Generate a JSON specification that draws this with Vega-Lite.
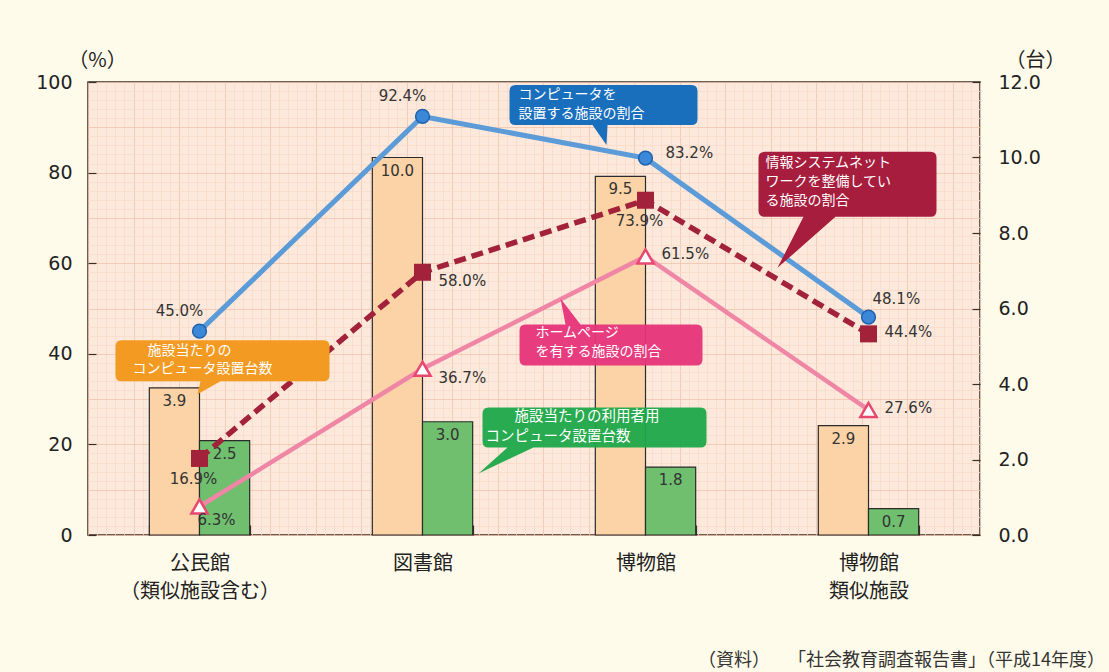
{
  "$schema": "https://vega.github.io/schema/vega-lite/v6.json",
  "width": 892,
  "height": 453,
  "autosize": "none",
  "padding": {"left": 88, "top": 82, "right": 129, "bottom": 137},
  "background": "#fffbea",
  "config": {
    "view": {"fill": "#fde9db", "stroke": "#3b2e25", "strokeWidth": 1.5},
    "font": "Noto Sans CJK JP"
  },
  "title": {
    "text": "（資料）　　「社会教育調査報告書」（平成14年度）",
    "orient": "bottom",
    "anchor": "end",
    "frame": "group",
    "dx": 125,
    "offset": 51,
    "font": "Noto Sans CJK JP",
    "fontSize": 18,
    "fontWeight": "normal",
    "color": "#333333"
  },
  "resolve": {"scale": {"x": "independent", "y": "independent"}},
  "layer": [
    {
      "data": {"values": [{"gx": 0, "gy": 0}, {"gx": 98, "gy": 100}]},
      "mark": {"type": "point", "opacity": 0},
      "encoding": {
        "x": {
          "field": "gx", "type": "quantitative",
          "scale": {"domain": [0, 98], "nice": false, "zero": false},
          "axis": {
            "orient": "top", "title": null, "labels": false, "ticks": false, "domain": false,
            "grid": true, "gridWidth": 0.8,
            "gridColor": {"condition": {"test": "datum.value % 5 === 0", "value": "#f0c4ae"}, "value": "#f7d9c9"},
            "values": [0,1,2,3,4,5,6,7,8,9,10,11,12,13,14,15,16,17,18,19,20,21,22,23,24,25,26,27,28,29,30,31,32,33,34,35,36,37,38,39,40,41,42,43,44,45,46,47,48,49,50,51,52,53,54,55,56,57,58,59,60,61,62,63,64,65,66,67,68,69,70,71,72,73,74,75,76,77,78,79,80,81,82,83,84,85,86,87,88,89,90,91,92,93,94,95,96,97,98]
          }
        },
        "y": {"field": "gy", "type": "quantitative", "scale": {"domain": [0, 100], "nice": false}, "axis": null}
      }
    },
    {
      "resolve": {"scale": {"y": "independent"}},
      "layer": [
        {
          "data": {"values": [
            {"cat": "公民館（類似施設含む）", "kind": "施設当たりのコンピュータ設置台数", "value": 3.9},
            {"cat": "公民館（類似施設含む）", "kind": "施設当たりの利用者用コンピュータ設置台数", "value": 2.5},
            {"cat": "図書館", "kind": "施設当たりのコンピュータ設置台数", "value": 10.0},
            {"cat": "図書館", "kind": "施設当たりの利用者用コンピュータ設置台数", "value": 3.0},
            {"cat": "博物館", "kind": "施設当たりのコンピュータ設置台数", "value": 9.5},
            {"cat": "博物館", "kind": "施設当たりの利用者用コンピュータ設置台数", "value": 1.8},
            {"cat": "博物館類似施設", "kind": "施設当たりのコンピュータ設置台数", "value": 2.9},
            {"cat": "博物館類似施設", "kind": "施設当たりの利用者用コンピュータ設置台数", "value": 0.7}
          ]},
          "layer": [
            {
              "mark": {"type": "bar", "stroke": "#2b2b2b", "strokeWidth": 1.2},
              "encoding": {
                "x": {
                  "field": "cat", "type": "nominal", "sort": null,
                  "scale": {"domain": ["公民館（類似施設含む）", "図書館", "博物館", "博物館類似施設"], "paddingInner": 0.55, "paddingOuter": 0.275},
                  "axis": {
                    "orient": "bottom", "title": null, "labelAngle": 0,
                    "labelExpr": "datum.label == '公民館（類似施設含む）' ? ['公民館','（類似施設含む）'] : datum.label == '博物館類似施設' ? ['博物館','類似施設'] : datum.label",
                    "labelFont": "Noto Sans CJK JP", "labelFontSize": 20, "labelColor": "#222222", "labelLineHeight": 28,
                    "labelPadding": 28, "tickBand": "extent", "tickSize": -10, "tickColor": "#3b2e25", "tickWidth": 1.2,
                    "domain": false, "grid": false
                  }
                },
                "xOffset": {
                  "field": "kind", "type": "nominal",
                  "scale": {"domain": ["施設当たりのコンピュータ設置台数", "施設当たりの利用者用コンピュータ設置台数"], "paddingInner": 0, "paddingOuter": 0}
                },
                "y": {
                  "field": "value", "type": "quantitative",
                  "scale": {"domain": [0, 12], "nice": false},
                  "axis": {
                    "orient": "right", "title": "（台）", "titleAngle": 0, "titleX": 55, "titleY": -22,
                    "titleAlign": "center", "titleBaseline": "middle", "titleFont": "Noto Sans CJK JP",
                    "titleFontSize": 20, "titleFontWeight": "normal", "titleColor": "#222222",
                    "values": [0, 2, 4, 6, 8, 10, 12], "format": ".1f",
                    "labelFont": "DejaVu Sans", "labelFontSize": 19, "labelColor": "#222222", "labelPadding": 26,
                    "tickSize": -8, "tickColor": "#3b2e25", "tickWidth": 1.2, "domain": false, "grid": false
                  }
                },
                "color": {
                  "field": "kind", "type": "nominal",
                  "scale": {"domain": ["施設当たりのコンピュータ設置台数", "施設当たりの利用者用コンピュータ設置台数"], "range": ["#fcd3a6", "#6fbf6f"]},
                  "legend": null
                }
              }
            },
            {
              "mark": {"type": "text", "baseline": "top", "dy": 6, "font": "DejaVu Sans", "fontSize": 15, "fill": "#333333"},
              "encoding": {
                "x": {"field": "cat", "type": "nominal", "sort": null, "scale": {"domain": ["公民館（類似施設含む）", "図書館", "博物館", "博物館類似施設"], "paddingInner": 0.55, "paddingOuter": 0.275}},
                "xOffset": {"field": "kind", "type": "nominal", "scale": {"domain": ["施設当たりのコンピュータ設置台数", "施設当たりの利用者用コンピュータ設置台数"], "paddingInner": 0, "paddingOuter": 0}},
                "y": {"field": "value", "type": "quantitative", "scale": {"domain": [0, 12], "nice": false}},
                "text": {"field": "value", "type": "quantitative", "format": ".1f"}
              }
            }
          ]
        },
        {
          "data": {"values": [
            {"cat": "公民館（類似施設含む）", "series": "設置", "pct": 45.0},
            {"cat": "図書館", "series": "設置", "pct": 92.4},
            {"cat": "博物館", "series": "設置", "pct": 83.2},
            {"cat": "博物館類似施設", "series": "設置", "pct": 48.1},
            {"cat": "公民館（類似施設含む）", "series": "ネットワーク", "pct": 16.9},
            {"cat": "図書館", "series": "ネットワーク", "pct": 58.0},
            {"cat": "博物館", "series": "ネットワーク", "pct": 73.9},
            {"cat": "博物館類似施設", "series": "ネットワーク", "pct": 44.4},
            {"cat": "公民館（類似施設含む）", "series": "ホームページ", "pct": 6.3},
            {"cat": "図書館", "series": "ホームページ", "pct": 36.7},
            {"cat": "博物館", "series": "ホームページ", "pct": 61.5},
            {"cat": "博物館類似施設", "series": "ホームページ", "pct": 27.6}
          ]},
          "transform": [{"calculate": "format(datum.pct, '.1f') + '%'", "as": "label"}],
          "encoding": {
            "x": {"field": "cat", "type": "nominal", "sort": null, "scale": {"domain": ["公民館（類似施設含む）", "図書館", "博物館", "博物館類似施設"], "paddingInner": 0.55, "paddingOuter": 0.275}},
            "y": {
              "field": "pct", "type": "quantitative",
              "scale": {"domain": [0, 100], "nice": false},
              "axis": {
                "orient": "left", "title": "（%）", "titleAngle": 0, "titleX": 9, "titleY": -22,
                "titleAlign": "center", "titleBaseline": "middle", "titleFont": "Noto Sans CJK JP",
                "titleFontSize": 20, "titleFontWeight": "normal", "titleColor": "#222222",
                "values": [0,2,4,6,8,10,12,14,16,18,20,22,24,26,28,30,32,34,36,38,40,42,44,46,48,50,52,54,56,58,60,62,64,66,68,70,72,74,76,78,80,82,84,86,88,90,92,94,96,98,100],
                "labelExpr": "datum.value % 20 === 0 ? datum.label : ''",
                "labelOverlap": false,
                "labelFont": "DejaVu Sans", "labelFontSize": 19, "labelColor": "#222222", "labelPadding": 24,
                "tickSize": -8, "tickColor": "#3b2e25", "tickWidth": 1.2,
                "tickOpacity": {"condition": {"test": "datum.value % 20 === 0", "value": 1}, "value": 0},
                "domain": false, "grid": true, "gridWidth": 0.8,
                "gridColor": {"condition": {"test": "datum.value % 10 === 0", "value": "#f0c4ae"}, "value": "#f7d9c9"}
              }
            }
          },
          "layer": [
            {
              "transform": [{"filter": "datum.series == '設置'"}],
              "mark": {"type": "line", "color": "#5a9bd8", "strokeWidth": 5,
                "point": {"shape": "circle", "filled": true, "fill": "#3b88d8", "stroke": "#1f62ad", "strokeWidth": 1.5, "size": 190, "opacity": 1}}
            },
            {
              "transform": [{"filter": "datum.series == 'ネットワーク'"}],
              "mark": {"type": "line", "color": "#a2223c", "strokeWidth": 5.5, "strokeDash": [12, 6],
                "point": {"shape": "square", "filled": true, "fill": "#a2223c", "size": 290, "opacity": 1}}
            },
            {
              "transform": [{"filter": "datum.series == 'ホームページ'"}],
              "mark": {"type": "line", "color": "#ef86a6", "strokeWidth": 4.5,
                "point": {"shape": "triangle-up", "filled": true, "fill": "#ffffff", "stroke": "#e8476f", "strokeWidth": 2.5, "size": 260, "opacity": 1}}
            },
            {
              "transform": [{"filter": "datum.series == '設置' && datum.cat == '博物館'"}],
              "mark": {"type": "point", "shape": "M-130,-73H46Q52,-73 52,-67V-39Q52,-33 46,-33H-38L-39,-13L-53,-33H-130Q-136,-33 -136,-39V-67Q-136,-73 -130,-73Z", "size": 4, "filled": true, "fill": "#1a6fbd", "opacity": 1, "strokeWidth": 0}
            },
            {
              "transform": [{"filter": "datum.series == '設置' && datum.cat == '博物館'"}],
              "mark": {"type": "text", "text": "コンピュータを", "align": "left", "baseline": "middle", "dx": -127, "dy": -63, "font": "Noto Sans CJK JP", "fontSize": 14, "fill": "#ffffff"}
            },
            {
              "transform": [{"filter": "datum.series == '設置' && datum.cat == '博物館'"}],
              "mark": {"type": "text", "text": "設置する施設の割合", "align": "left", "baseline": "middle", "dx": -127, "dy": -44, "font": "Noto Sans CJK JP", "fontSize": 14, "fill": "#ffffff"}
            },
            {
              "transform": [{"filter": "datum.series == 'ネットワーク' && datum.cat == '博物館類似施設'"}],
              "mark": {"type": "point", "shape": "M-104,-182H62Q68,-182 68,-176V-123Q68,-117 62,-117H-33L-91,-66L-65,-117H-104Q-110,-117 -110,-123V-176Q-110,-182 -104,-182Z", "size": 4, "filled": true, "fill": "#a61d3d", "opacity": 1, "strokeWidth": 0}
            },
            {
              "transform": [{"filter": "datum.series == 'ネットワーク' && datum.cat == '博物館類似施設'"}],
              "mark": {"type": "text", "text": "情報システムネット", "align": "left", "baseline": "middle", "dx": -103, "dy": -171, "font": "Noto Sans CJK JP", "fontSize": 14, "fill": "#ffffff"}
            },
            {
              "transform": [{"filter": "datum.series == 'ネットワーク' && datum.cat == '博物館類似施設'"}],
              "mark": {"type": "text", "text": "ワークを整備してい", "align": "left", "baseline": "middle", "dx": -103, "dy": -152, "font": "Noto Sans CJK JP", "fontSize": 14, "fill": "#ffffff"}
            },
            {
              "transform": [{"filter": "datum.series == 'ネットワーク' && datum.cat == '博物館類似施設'"}],
              "mark": {"type": "text", "text": "る施設の割合", "align": "left", "baseline": "middle", "dx": -103, "dy": -133, "font": "Noto Sans CJK JP", "fontSize": 14, "fill": "#ffffff"}
            },
            {
              "transform": [{"filter": "datum.series == '設置' && datum.cat == '公民館（類似施設含む）'"}],
              "mark": {"type": "point", "shape": "M-78,9H124Q130,9 130,15V44Q130,50 124,50H21L-2,63L1,50H-78Q-84,50 -84,44V15Q-84,9 -78,9Z", "size": 4, "filled": true, "fill": "#f39a22", "opacity": 1, "strokeWidth": 0}
            },
            {
              "transform": [{"filter": "datum.series == '設置' && datum.cat == '公民館（類似施設含む）'"}],
              "mark": {"type": "text", "text": "施設当たりの", "align": "left", "baseline": "middle", "dx": -52, "dy": 20, "font": "Noto Sans CJK JP", "fontSize": 14, "fill": "#ffffff"}
            },
            {
              "transform": [{"filter": "datum.series == '設置' && datum.cat == '公民館（類似施設含む）'"}],
              "mark": {"type": "text", "text": "コンピュータ設置台数", "align": "left", "baseline": "middle", "dx": -67, "dy": 38, "font": "Noto Sans CJK JP", "fontSize": 14, "fill": "#ffffff"}
            },
            {
              "transform": [{"filter": "datum.series == 'ホームページ' && datum.cat == '博物館'"}],
              "mark": {"type": "point", "shape": "M-120,68H-80L-85,42L-65,68H51Q57,68 57,74V103Q57,109 51,109H-120Q-126,109 -126,103V74Q-126,68 -120,68Z", "size": 4, "filled": true, "fill": "#e6347a", "opacity": 0.95, "strokeWidth": 0}
            },
            {
              "transform": [{"filter": "datum.series == 'ホームページ' && datum.cat == '博物館'"}],
              "mark": {"type": "text", "text": "ホームページ", "align": "left", "baseline": "middle", "dx": -110, "dy": 77, "font": "Noto Sans CJK JP", "fontSize": 14, "fill": "#ffffff"}
            },
            {
              "transform": [{"filter": "datum.series == 'ホームページ' && datum.cat == '博物館'"}],
              "mark": {"type": "text", "text": "を有する施設の割合", "align": "left", "baseline": "middle", "dx": -110, "dy": 96, "font": "Noto Sans CJK JP", "fontSize": 14, "fill": "#ffffff"}
            },
            {
              "transform": [{"filter": "datum.series == 'ホームページ' && datum.cat == '博物館'"}],
              "mark": {"type": "point", "shape": "M-157,151H55Q61,151 61,157V185Q61,191 55,191H-112L-167,217L-138,191H-157Q-163,191 -163,185V157Q-163,151 -157,151Z", "size": 4, "filled": true, "fill": "#1da84a", "opacity": 0.95, "strokeWidth": 0}
            },
            {
              "transform": [{"filter": "datum.series == 'ホームページ' && datum.cat == '博物館'"}],
              "mark": {"type": "text", "text": "施設当たりの利用者用", "align": "left", "baseline": "middle", "dx": -131, "dy": 161, "font": "Noto Sans CJK JP", "fontSize": 14.5, "fill": "#ffffff"}
            },
            {
              "transform": [{"filter": "datum.series == 'ホームページ' && datum.cat == '博物館'"}],
              "mark": {"type": "text", "text": "コンピュータ設置台数", "align": "left", "baseline": "middle", "dx": -160, "dy": 181, "font": "Noto Sans CJK JP", "fontSize": 14.5, "fill": "#ffffff"}
            },
            {
              "transform": [{"filter": "datum.series == '設置' && (datum.cat == '公民館（類似施設含む）' || datum.cat == '図書館')"}],
              "mark": {"type": "text", "align": "center", "baseline": "middle", "dx": -20, "dy": -20, "font": "DejaVu Sans", "fontSize": 15, "fill": "#333333"},
              "encoding": {"text": {"field": "label"}}
            },
            {
              "transform": [{"filter": "datum.series == '設置' && datum.cat == '博物館'"}],
              "mark": {"type": "text", "align": "left", "baseline": "middle", "dx": 20, "dy": -5, "font": "DejaVu Sans", "fontSize": 15, "fill": "#333333"},
              "encoding": {"text": {"field": "label"}}
            },
            {
              "transform": [{"filter": "datum.series == '設置' && datum.cat == '博物館類似施設'"}],
              "mark": {"type": "text", "align": "left", "baseline": "middle", "dx": 4, "dy": -18, "font": "DejaVu Sans", "fontSize": 15, "fill": "#333333"},
              "encoding": {"text": {"field": "label"}}
            },
            {
              "transform": [{"filter": "datum.series == 'ネットワーク' && (datum.cat == '公民館（類似施設含む）' || datum.cat == '博物館')"}],
              "mark": {"type": "text", "align": "center", "baseline": "middle", "dx": -6, "dy": 21, "font": "DejaVu Sans", "fontSize": 15, "fill": "#333333"},
              "encoding": {"text": {"field": "label"}}
            },
            {
              "transform": [{"filter": "datum.cat == '図書館' && (datum.series == 'ネットワーク' || datum.series == 'ホームページ')"}],
              "mark": {"type": "text", "align": "left", "baseline": "middle", "dx": 16, "dy": 9, "font": "DejaVu Sans", "fontSize": 15, "fill": "#333333"},
              "encoding": {"text": {"field": "label"}}
            },
            {
              "transform": [{"filter": "(datum.series == 'ネットワーク' && datum.cat == '博物館類似施設') || (datum.series == 'ホームページ' && (datum.cat == '博物館' || datum.cat == '博物館類似施設'))"}],
              "mark": {"type": "text", "align": "left", "baseline": "middle", "dx": 16, "dy": -2, "font": "DejaVu Sans", "fontSize": 15, "fill": "#333333"},
              "encoding": {"text": {"field": "label"}}
            },
            {
              "transform": [{"filter": "datum.series == 'ホームページ' && datum.cat == '公民館（類似施設含む）'"}],
              "mark": {"type": "text", "align": "left", "baseline": "middle", "dx": -2, "dy": 14, "font": "DejaVu Sans", "fontSize": 15, "fill": "#333333"},
              "encoding": {"text": {"field": "label"}}
            }
          ]
        }
      ]
    }
  ]
}
